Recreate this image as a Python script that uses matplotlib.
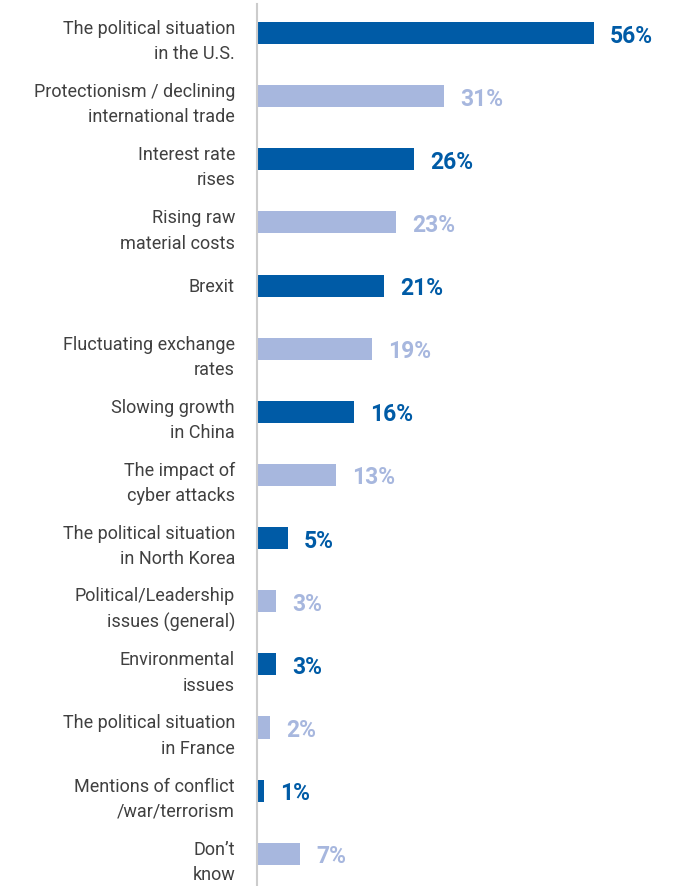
import matplotlib.pyplot as plt

categories = [
    "The political situation\nin the U.S.",
    "Protectionism / declining\ninternational trade",
    "Interest rate\nrises",
    "Rising raw\nmaterial costs",
    "Brexit",
    "Fluctuating exchange\nrates",
    "Slowing growth\nin China",
    "The impact of\ncyber attacks",
    "The political situation\nin North Korea",
    "Political/Leadership\nissues (general)",
    "Environmental\nissues",
    "The political situation\nin France",
    "Mentions of conflict\n/war/terrorism",
    "Don\u2019t\nknow",
]
values = [56, 31, 26, 23, 21, 19, 16, 13, 5, 3, 3, 2, 1, 7]
value_labels = ["56%", "31%", "26%", "23%", "21%", "19%", "16%", "13%",
                "5%", "3%", "3%", "2%", "1%", "7%"]

DARK = "#005BA6"
LIGHT = "#A7B7DE"
colors = [DARK if i % 2 == 0 else LIGHT for i in range(len(values))]

W, H = 691, 887
fig = plt.figure(figsize=(W / 100, H / 100), dpi=100)
ax = fig.add_axes([257 / W, 0, 1 - 257 / W, 1 - 5 / H])

y = list(range(len(values)))
ax.barh(y, values, height=0.35, color=colors, left=0.15)
ax.set_xlim(0, (W - 257) / 6.0)
ax.set_ylim(13.51, -0.46)

for yi, v, lab, col in zip(y, values, value_labels, colors):
    ax.annotate(lab, (v, yi), xytext=(17, -2), textcoords="offset pixels",
                ha="left", va="center", fontsize=16.5, fontweight="bold",
                color=col, family="Roboto")

for yi, cat in zip(y, categories):
    dy = -7.5 if "\n" in cat else 0
    ax.annotate(cat, (0, yi), xytext=(-22, dy), textcoords="offset pixels",
                ha="right", va="center", fontsize=13, color="#404040",
                family="Roboto", linespacing=1.52)

for s in ["top", "right", "bottom"]:
    ax.spines[s].set_visible(False)
ax.spines["left"].set_color("#cccccc")
ax.spines["left"].set_linewidth(1.5)
ax.set_xticks([])
ax.set_yticks([])

fig.savefig("out.png", dpi=100, facecolor="white")
